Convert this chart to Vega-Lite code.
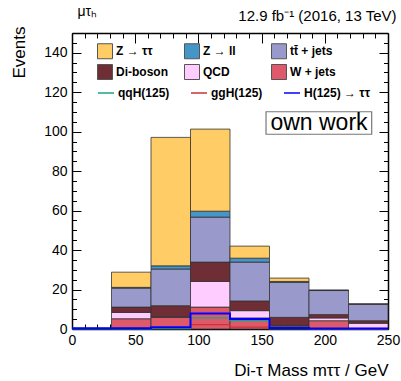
{
  "$schema": "https://vega.github.io/schema/vega-lite/v6.json",
  "width": 316,
  "height": 296,
  "autosize": {"type": "none"},
  "padding": {"left": 72, "top": 33, "right": 13, "bottom": 52},
  "background": "white",
  "config": {
    "font": "Liberation Sans",
    "view": {"stroke": null},
    "axis": {"labelFont": "Liberation Sans", "titleFont": "Liberation Sans", "labelColor": "black", "titleColor": "black", "tickColor": "black", "domainColor": "black", "grid": false, "zindex": 1},
    "legend": {"padding": 0}
  },
  "datasets": {
    "bkg": [
      {"lo": 31.25, "hi": 62.5, "process": "W + jets", "n": 5.2},
      {"lo": 31.25, "hi": 62.5, "process": "QCD", "n": 3.2},
      {"lo": 31.25, "hi": 62.5, "process": "Di-boson", "n": 2.7},
      {"lo": 31.25, "hi": 62.5, "process": "tt\u0304 + jets", "n": 9.6},
      {"lo": 31.25, "hi": 62.5, "process": "Z \u2192 ll", "n": 0.4},
      {"lo": 31.25, "hi": 62.5, "process": "Z \u2192 \u03c4\u03c4", "n": 7.7},
      {"lo": 62.5, "hi": 93.75, "process": "W + jets", "n": 5.9},
      {"lo": 62.5, "hi": 93.75, "process": "QCD", "n": 0.2},
      {"lo": 62.5, "hi": 93.75, "process": "Di-boson", "n": 5.7},
      {"lo": 62.5, "hi": 93.75, "process": "tt\u0304 + jets", "n": 18.6},
      {"lo": 62.5, "hi": 93.75, "process": "Z \u2192 ll", "n": 1.6},
      {"lo": 62.5, "hi": 93.75, "process": "Z \u2192 \u03c4\u03c4", "n": 65.1},
      {"lo": 93.75, "hi": 125, "process": "W + jets", "n": 11.1},
      {"lo": 93.75, "hi": 125, "process": "QCD", "n": 13.0},
      {"lo": 93.75, "hi": 125, "process": "Di-boson", "n": 9.8},
      {"lo": 93.75, "hi": 125, "process": "tt\u0304 + jets", "n": 22.8},
      {"lo": 93.75, "hi": 125, "process": "Z \u2192 ll", "n": 3.0},
      {"lo": 93.75, "hi": 125, "process": "Z \u2192 \u03c4\u03c4", "n": 41.6},
      {"lo": 125, "hi": 156.25, "process": "W + jets", "n": 5.6},
      {"lo": 125, "hi": 156.25, "process": "QCD", "n": 3.7},
      {"lo": 125, "hi": 156.25, "process": "Di-boson", "n": 4.9},
      {"lo": 125, "hi": 156.25, "process": "tt\u0304 + jets", "n": 19.7},
      {"lo": 125, "hi": 156.25, "process": "Z \u2192 ll", "n": 2.0},
      {"lo": 125, "hi": 156.25, "process": "Z \u2192 \u03c4\u03c4", "n": 6.1},
      {"lo": 156.25, "hi": 187.5, "process": "W + jets", "n": 1.4},
      {"lo": 156.25, "hi": 187.5, "process": "QCD", "n": 0.4},
      {"lo": 156.25, "hi": 187.5, "process": "Di-boson", "n": 4.1},
      {"lo": 156.25, "hi": 187.5, "process": "tt\u0304 + jets", "n": 17.7},
      {"lo": 156.25, "hi": 187.5, "process": "Z \u2192 ll", "n": 0.5},
      {"lo": 156.25, "hi": 187.5, "process": "Z \u2192 \u03c4\u03c4", "n": 1.7},
      {"lo": 187.5, "hi": 218.75, "process": "W + jets", "n": 4.2},
      {"lo": 187.5, "hi": 218.75, "process": "QCD", "n": 1.4},
      {"lo": 187.5, "hi": 218.75, "process": "Di-boson", "n": 1.7},
      {"lo": 187.5, "hi": 218.75, "process": "tt\u0304 + jets", "n": 12.2},
      {"lo": 187.5, "hi": 218.75, "process": "Z \u2192 ll", "n": 0.1},
      {"lo": 187.5, "hi": 218.75, "process": "Z \u2192 \u03c4\u03c4", "n": 0.1},
      {"lo": 218.75, "hi": 250, "process": "W + jets", "n": 0.3},
      {"lo": 218.75, "hi": 250, "process": "QCD", "n": 2.6},
      {"lo": 218.75, "hi": 250, "process": "Di-boson", "n": 1.3},
      {"lo": 218.75, "hi": 250, "process": "tt\u0304 + jets", "n": 8.3},
      {"lo": 218.75, "hi": 250, "process": "Z \u2192 ll", "n": 0.1},
      {"lo": 218.75, "hi": 250, "process": "Z \u2192 \u03c4\u03c4", "n": 0.05}
    ],
    "sig": [
      {"lo": 0, "hi": 31.25, "signal": "qqH(125)", "n": 0.1},
      {"lo": 31.25, "hi": 62.5, "signal": "qqH(125)", "n": 0.1},
      {"lo": 62.5, "hi": 93.75, "signal": "qqH(125)", "n": 0.2},
      {"lo": 93.75, "hi": 125, "signal": "qqH(125)", "n": 5.6},
      {"lo": 125, "hi": 156.25, "signal": "qqH(125)", "n": 4.2},
      {"lo": 156.25, "hi": 187.5, "signal": "qqH(125)", "n": 0.2},
      {"lo": 187.5, "hi": 218.75, "signal": "qqH(125)", "n": 0.1},
      {"lo": 218.75, "hi": 250, "signal": "qqH(125)", "n": 0.1},
      {"lo": 0, "hi": 31.25, "signal": "ggH(125)", "n": 0.3},
      {"lo": 31.25, "hi": 62.5, "signal": "ggH(125)", "n": 0.3},
      {"lo": 62.5, "hi": 93.75, "signal": "ggH(125)", "n": 0.7},
      {"lo": 93.75, "hi": 125, "signal": "ggH(125)", "n": 2.2},
      {"lo": 125, "hi": 156.25, "signal": "ggH(125)", "n": 0.9},
      {"lo": 156.25, "hi": 187.5, "signal": "ggH(125)", "n": 0.3},
      {"lo": 187.5, "hi": 218.75, "signal": "ggH(125)", "n": 0.2},
      {"lo": 218.75, "hi": 250, "signal": "ggH(125)", "n": 0.1},
      {"lo": 0, "hi": 31.25, "signal": "H(125) \u2192 \u03c4\u03c4", "n": 0.4},
      {"lo": 31.25, "hi": 62.5, "signal": "H(125) \u2192 \u03c4\u03c4", "n": 0.4},
      {"lo": 62.5, "hi": 93.75, "signal": "H(125) \u2192 \u03c4\u03c4", "n": 0.9},
      {"lo": 93.75, "hi": 125, "signal": "H(125) \u2192 \u03c4\u03c4", "n": 7.8},
      {"lo": 125, "hi": 156.25, "signal": "H(125) \u2192 \u03c4\u03c4", "n": 5.1},
      {"lo": 156.25, "hi": 187.5, "signal": "H(125) \u2192 \u03c4\u03c4", "n": 0.5},
      {"lo": 187.5, "hi": 218.75, "signal": "H(125) \u2192 \u03c4\u03c4", "n": 0.3},
      {"lo": 218.75, "hi": 250, "signal": "H(125) \u2192 \u03c4\u03c4", "n": 0.2}
    ]
  },
  "layer": [
    {
      "layer": [
        {
          "data": {"name": "bkg"},
          "transform": [
            {"calculate": "indexof(['W + jets','QCD','Di-boson','tt\u0304 + jets','Z \u2192 ll','Z \u2192 \u03c4\u03c4'], datum.process)", "as": "rank"},
            {"stack": "n", "groupby": ["lo"], "sort": [{"field": "rank", "order": "ascending"}], "as": ["n0", "n1"]}
          ],
          "mark": {"type": "rect", "stroke": "#333333", "strokeWidth": 0.8},
          "encoding": {
            "x": {
              "field": "lo", "type": "quantitative",
              "scale": {"domain": [0, 250], "nice": false, "zero": false},
              "axis": {
                "orient": "bottom",
                "tickCount": 25,
                "labelExpr": "datum.value % 50 === 0 ? datum.label : ''",
                "tickSize": -10,
                "tickDash": {"condition": {"test": "datum.value % 50 !== 0", "value": [5, 40]}, "value": [20, 0]},
                "tickWidth": 1,
                "labelPadding": 14,
                "labelFontSize": 14,
                "labelFlush": false,
                "labelOverlap": false,
                "domainWidth": 1.5,
                "title": "Di-\u03c4 Mass m\u03c4\u03c4 / GeV",
                "titleFontSize": 17,
                "titleFontWeight": "normal",
                "titleAlign": "right",
                "titleBaseline": "alphabetic",
                "titleX": 316,
                "titleY": 46
              }
            },
            "x2": {"field": "hi"},
            "y": {
              "field": "n0", "type": "quantitative",
              "scale": {"domain": [0, 150], "nice": false},
              "axis": {
                "orient": "left",
                "tickCount": 30,
                "labelExpr": "datum.value % 20 === 0 ? datum.label : ''",
                "tickSize": -9,
                "tickDash": {"condition": {"test": "datum.value % 20 !== 0", "value": [4.5, 40]}, "value": [20, 0]},
                "tickWidth": 1,
                "labelPadding": 14,
                "labelFontSize": 14,
                "labelFlush": false,
                "labelOverlap": false,
                "domainWidth": 1.5,
                "title": "Events",
                "titleFontSize": 17,
                "titleFontWeight": "normal",
                "titleAngle": 270,
                "titleAlign": "right",
                "titleBaseline": "alphabetic",
                "titleX": -48,
                "titleY": -7
              }
            },
            "y2": {"field": "n1"},
            "fill": {
              "field": "process", "type": "nominal",
              "scale": {
                "domain": ["Z \u2192 \u03c4\u03c4", "Z \u2192 ll", "tt\u0304 + jets", "Di-boson", "QCD", "W + jets"],
                "range": ["#FFCC66", "#4496C8", "#9999CC", "#6F2D35", "#FFCCFF", "#DE5A6A"]
              },
              "legend": {
                "title": null,
                "orient": "none",
                "legendX": 25,
                "legendY": 10,
                "columns": 3,
                "direction": "horizontal",
                "gridAlign": "all",
                "symbolType": "square",
                "symbolSize": 225,
                "symbolStrokeColor": "#555555",
                "symbolStrokeWidth": 1,
                "symbolOpacity": 1,
                "labelFont": "Liberation Sans",
                "labelFontWeight": "bold",
                "labelFontSize": 12,
                "labelColor": "black",
                "labelOffset": 3,
                "labelLimit": 200,
                "columnPadding": 14,
                "rowPadding": 1
              }
            }
          }
        },
        {
          "data": {"name": "sig"},
          "transform": [{"fold": ["lo", "hi"], "as": ["side", "edge"]}],
          "mark": {"type": "line"},
          "encoding": {
            "x": {"field": "edge", "type": "quantitative"},
            "y": {"field": "n", "type": "quantitative"},
            "stroke": {
              "field": "signal", "type": "nominal",
              "scale": {
                "domain": ["qqH(125)", "ggH(125)", "H(125) \u2192 \u03c4\u03c4"],
                "range": ["#17A589", "#CC3333", "#0000FF"]
              },
              "legend": {
                "title": null,
                "orient": "none",
                "legendX": 25,
                "legendY": 51,
                "columns": 3,
                "direction": "horizontal",
                "gridAlign": "each",
                "symbolType": "stroke",
                "symbolSize": 256,
                "symbolStrokeWidth": 1.5,
                "labelFont": "Liberation Sans",
                "labelFontWeight": "bold",
                "labelFontSize": 12,
                "labelColor": "black",
                "labelOffset": 3,
                "labelLimit": 200,
                "columnPadding": 18
              }
            },
            "strokeWidth": {"condition": {"test": "datum.signal === 'H(125) \u2192 \u03c4\u03c4'", "value": 2}, "value": 1.3},
            "order": [{"field": "lo"}, {"field": "edge"}]
          }
        },
        {
          "data": {"values": [{}]},
          "mark": {"type": "rect", "fill": "white", "stroke": "#777777", "strokeWidth": 1.2},
          "encoding": {
            "x": {"datum": 153.5, "type": "quantitative"},
            "x2": {"datum": 237.1},
            "y": {"datum": 110.1, "type": "quantitative"},
            "y2": {"datum": 98.7}
          }
        },
        {
          "data": {"values": [{}]},
          "mark": {"type": "text", "text": "own work", "font": "Liberation Sans", "fontSize": 23, "align": "center", "baseline": "alphabetic", "color": "black"},
          "encoding": {
            "x": {"datum": 195.4, "type": "quantitative"},
            "y": {"datum": 100.9, "type": "quantitative"}
          }
        }
      ]
    },
    {
      "data": {"name": "bkg"},
      "mark": {"type": "point", "opacity": 0},
      "encoding": {
        "x": {
          "field": "lo", "type": "quantitative",
          "scale": {"domain": [0, 250], "nice": false, "zero": false},
          "axis": {
            "orient": "top",
            "tickCount": 25,
            "labels": false,
            "tickSize": -10,
            "tickDash": {"condition": {"test": "datum.value % 50 !== 0", "value": [5, 40]}, "value": [20, 0]},
            "tickWidth": 1,
            "domainWidth": 1.5,
            "title": "12.9 fb\u207b\u00b9 (2016, 13 TeV)",
            "titleFontSize": 15,
            "titleFontWeight": "normal",
            "titleAlign": "right",
            "titleBaseline": "alphabetic",
            "titleX": 324,
            "titleY": -13
          }
        },
        "y": {
          "field": "n", "type": "quantitative",
          "scale": {"domain": [0, 150], "nice": false},
          "axis": {
            "orient": "right",
            "tickCount": 30,
            "labels": false,
            "tickSize": -9,
            "tickDash": {"condition": {"test": "datum.value % 20 !== 0", "value": [4.5, 40]}, "value": [20, 0]},
            "tickWidth": 1,
            "domainWidth": 1.5,
            "title": "\u03bc\u03c4\u2095",
            "titleFontSize": 14,
            "titleFontWeight": "normal",
            "titleAngle": 0,
            "titleAlign": "left",
            "titleBaseline": "alphabetic",
            "titleX": -311,
            "titleY": -17.5
          }
        }
      }
    }
  ],
  "resolve": {"scale": {"x": "independent", "y": "independent"}}
}
